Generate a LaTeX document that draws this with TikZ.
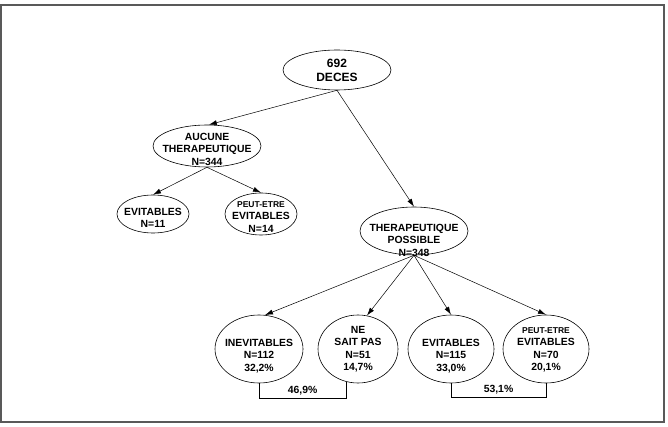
\documentclass[tikz,border=0pt]{standalone}
\usepackage{fontspec}
\setmainfont{Liberation Sans}
\usepackage{tikz}
\usetikzlibrary{shapes.geometric, arrows.meta}
\newcommand{\peutetre}{{\fontsize{8.5}{10}\selectfont PEUT-ETRE}}

\begin{document}
\begin{tikzpicture}[
  x=1pt, y=-1pt,
  ell/.style={ellipse, draw, line width=0.6pt, inner sep=0pt},
  txt/.style={font=\fontsize{10.4}{12.5}\selectfont\bfseries, align=center, inner sep=0pt},
  arr/.style={-{Latex[length=8pt, width=5pt]}, line width=0.5pt},
  pct/.style={font=\fontsize{10.4}{12}\selectfont\bfseries, above, inner sep=3pt}
]
  \useasboundingbox (0,0) rectangle (668,427);
  \draw[line width=1.2pt, black!65] (1,5) rectangle (664,422);
  % Top of the tree
  \node[ell, minimum width=108, minimum height=40,
    label={[txt, font=\fontsize{12}{14}\selectfont\bfseries]center:692\\DECES}] (dec) at (337,70) {};
  \node[ell, minimum width=108, minimum height=42,
    label={[txt, yshift=-3pt]center:AUCUNE\\THERAPEUTIQUE\\N=344}] (auc) at (207,146) {};
  \node[ell, minimum width=72, minimum height=38,
    label={[txt, yshift=-4pt]center:EVITABLES\\N=11}] (ev1) at (153,214) {};
  \node[ell, minimum width=72, minimum height=42,
    label={[txt, yshift=-3pt]center:\peutetre\\EVITABLES\\N=14}] (pev1) at (261,214) {};
  \node[ell, minimum width=108, minimum height=48,
    label={[txt, yshift=-9pt]center:THERAPEUTIQUE\\POSSIBLE\\N=348}] (pos) at (414,231) {};
  % Bottom row
  \foreach \nm/\x/\w/\dy/\lab in {
    ine/259/88/-7/{INEVITABLES\\N=112\\32,2\%},
    nsp/358/80/0/{NE\\SAIT PAS\\N=51\\14,7\%},
    ev2/451/86/-7/{EVITABLES\\N=115\\33,0\%},
    pev2/546/86/-1/{\peutetre\\EVITABLES\\N=70\\20,1\%}%
  } {
    \node[ell, minimum width=\w, minimum height=68,
      label={[txt, yshift=\dy pt]center:\lab}] (\nm) at (\x,349) {};
  }
  % Arrows
  \draw[arr] (dec.south) -- (auc.85);
  \draw[arr] (dec.south) -- (pos.north);
  \draw[arr] (auc.south) -- (ev1.north);
  \draw[arr] (auc.south) -- (pev1.north);
  \draw[arr] (pos.south) -- (ine.80);
  \draw[arr] (pos.south) -- (nsp.75);
  \draw[arr] (pos.south) -- (ev2.north);
  \draw[arr] (pos.south) -- (pev2.north);
  % Brackets
  \draw[line width=0.6pt] (ine.south) -- ++(0,15) -| (nsp.250) node[pct, pos=0.25] {46,9\%};
  \draw[line width=0.6pt] (ev2.south) -- ++(0,14) -| (pev2.south) node[pct, pos=0.25] {53,1\%};
\end{tikzpicture}
\end{document}
